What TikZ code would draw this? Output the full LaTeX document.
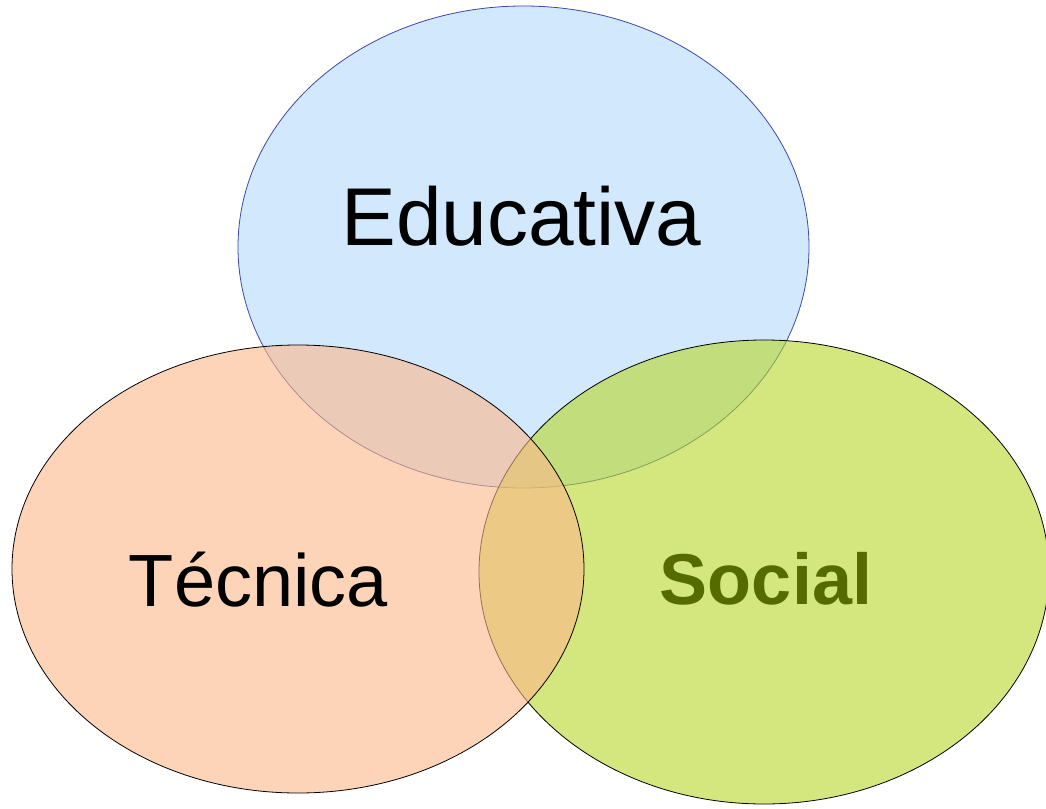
\documentclass[tikz,border=0pt]{standalone}
\usepackage{fontspec}
\setmainfont{Liberation Sans}
\usepackage{xcolor}
\usetikzlibrary{shapes, positioning}
\definecolor{edufill}{RGB}{210,232,252}
\definecolor{eduline}{RGB}{62,72,168}
\definecolor{tecfill}{RGB}{253,183,138}
\definecolor{socfill}{RGB}{182,215,40}
\definecolor{soctext}{RGB}{85,107,0}
\tikzset{
    setnode/.style = {draw, ellipse, inner sep = 0em, line width=0.8pt},
    labelnode/.style = {draw=none, fill=none, rectangle, inner sep = 0em, anchor=base}
}
\begin{document}
\begin{tikzpicture}[x=1pt, y=-1pt]
    \useasboundingbox (0,0) rectangle (1046,808);

    \node [name=edu, setnode, draw=eduline, fill=edufill, 
        minimum width=571pt, minimum height=482pt] at (523.5,247) {};
    \node [name=soc, setnode, fill=socfill, fill opacity=0.6, 
        minimum width=570pt, minimum height=464pt] at (764,572) {};
    \node [name=tec, setnode, fill=tecfill, fill opacity=0.6, 
        minimum width=572pt, minimum height=448pt] at (298,569) {};

    \node [name=edulabel, labelnode] at (521.5,245) {\fontsize{82}{92}\selectfont Educativa};
    \node [name=teclabel, labelnode] at (258.5,606.7) {\fontsize{74}{86}\selectfont Técnica};
    \node [name=soclabel, labelnode, text=soctext] at (766,604) {\fontsize{72}{82}\selectfont\bfseries Social};
\end{tikzpicture}
\end{document}
